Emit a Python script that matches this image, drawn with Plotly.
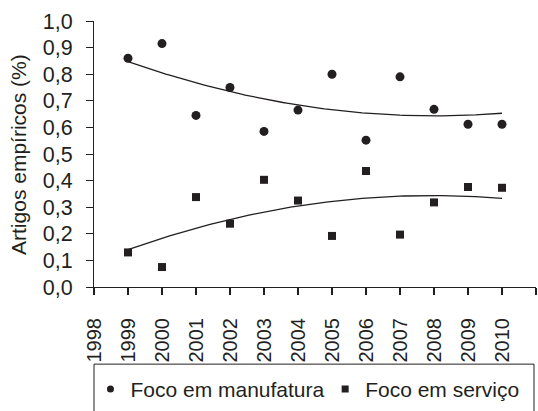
import numpy as np
import plotly.graph_objects as go

years = [1999, 2000, 2001, 2002, 2003, 2004, 2005, 2006, 2007, 2008, 2009, 2010]
manufatura = [0.86, 0.915, 0.645, 0.75, 0.585, 0.665, 0.80, 0.552, 0.79, 0.668, 0.612, 0.612]
servico = [0.13, 0.075, 0.338, 0.238, 0.403, 0.325, 0.192, 0.436, 0.197, 0.318, 0.376, 0.373]
y_ticks = [0.0, 0.1, 0.2, 0.3, 0.4, 0.5, 0.6, 0.7, 0.8, 0.9, 1.0]
y_ticklabels = ["0,0", "0,1", "0,2", "0,3", "0,4", "0,5", "0,6", "0,7", "0,8", "0,9", "1,0"]
x_ticks = list(range(1998, 2012))
names = ["Foco em manufatura", "Foco em serviço"]
y_title = "Artigos empíricos (%)"

INK = "#231f20"
FONT = "Liberation Sans, Arial, sans-serif"

xs = np.linspace(years[0], years[-1], 100)


def trend(vals):
    c = np.polyfit(np.array(years) - 2004, vals, 2)
    return np.polyval(c, xs - 2004)


fig = go.Figure()
for vals in (manufatura, servico):
    fig.add_trace(go.Scatter(x=xs, y=trend(vals), mode="lines",
                             line=dict(color=INK, width=1.3), showlegend=False,
                             hoverinfo="skip"))
fig.add_trace(go.Scatter(x=years, y=manufatura, mode="markers",
                         marker=dict(symbol="circle", size=9, color=INK),
                         showlegend=False, cliponaxis=False))
fig.add_trace(go.Scatter(x=years, y=servico, mode="markers",
                         marker=dict(symbol="square", size=8, color=INK),
                         showlegend=False, cliponaxis=False))
# legend entries
fig.add_trace(go.Scatter(x=[None], y=[None], mode="markers", name=names[0],
                         legend="legend",
                         marker=dict(symbol="circle", size=7, color=INK)))
fig.add_trace(go.Scatter(x=[None], y=[None], mode="markers", name=names[1],
                         legend="legend2",
                         marker=dict(symbol="square", size=7, color=INK)))

leg_common = dict(orientation="h", xanchor="left", y=-0.385, yanchor="middle",
                  font=dict(size=21, family=FONT, color=INK),
                  bgcolor="rgba(0,0,0,0)", borderwidth=0,
                  itemclick=False, itemdoubleclick=False)

fig.update_layout(
    width=538, height=411,
    margin=dict(l=94, r=2, t=21, b=124, autoexpand=False),
    paper_bgcolor="white", plot_bgcolor="white",
    font=dict(family=FONT, color=INK, size=20),
    showlegend=True,
    legend=dict(x=-0.008, **leg_common),
    legend2=dict(x=0.523, **leg_common),
    xaxis=dict(range=[1998, 2011], tickmode="array", tickvals=x_ticks,
               ticktext=[str(v) for v in x_ticks], tickangle=-90,
               showgrid=False, zeroline=False, showline=True, linecolor=INK,
               linewidth=1, ticks="outside", ticklen=7, tickwidth=1.5,
               tickcolor=INK, ticklabelstandoff=15, automargin=False,
               tickfont=dict(size=20, family=FONT, color=INK)),
    yaxis=dict(range=[0, 1], tickmode="array", tickvals=y_ticks,
               ticktext=y_ticklabels, showgrid=False, zeroline=False,
               showline=True, linecolor=INK, linewidth=1, ticks="outside",
               ticklen=7, tickcolor=INK, ticklabelstandoff=9, automargin=False,
               tickfont=dict(size=21.5, family=FONT, color=INK)),
)

fig.add_annotation(text=y_title, xref="paper", yref="paper", x=-0.172, y=0.5,
                   xanchor="center", yanchor="middle", textangle=-90,
                   showarrow=False, font=dict(size=21, family=FONT, color=INK))

fig.add_shape(type="rect", xref="paper", yref="paper",
              x0=0, x1=0.9955, y0=-0.29, y1=-0.6,
              line=dict(color=INK, width=1), fillcolor="rgba(0,0,0,0)")

fig.write_html("out.html")
